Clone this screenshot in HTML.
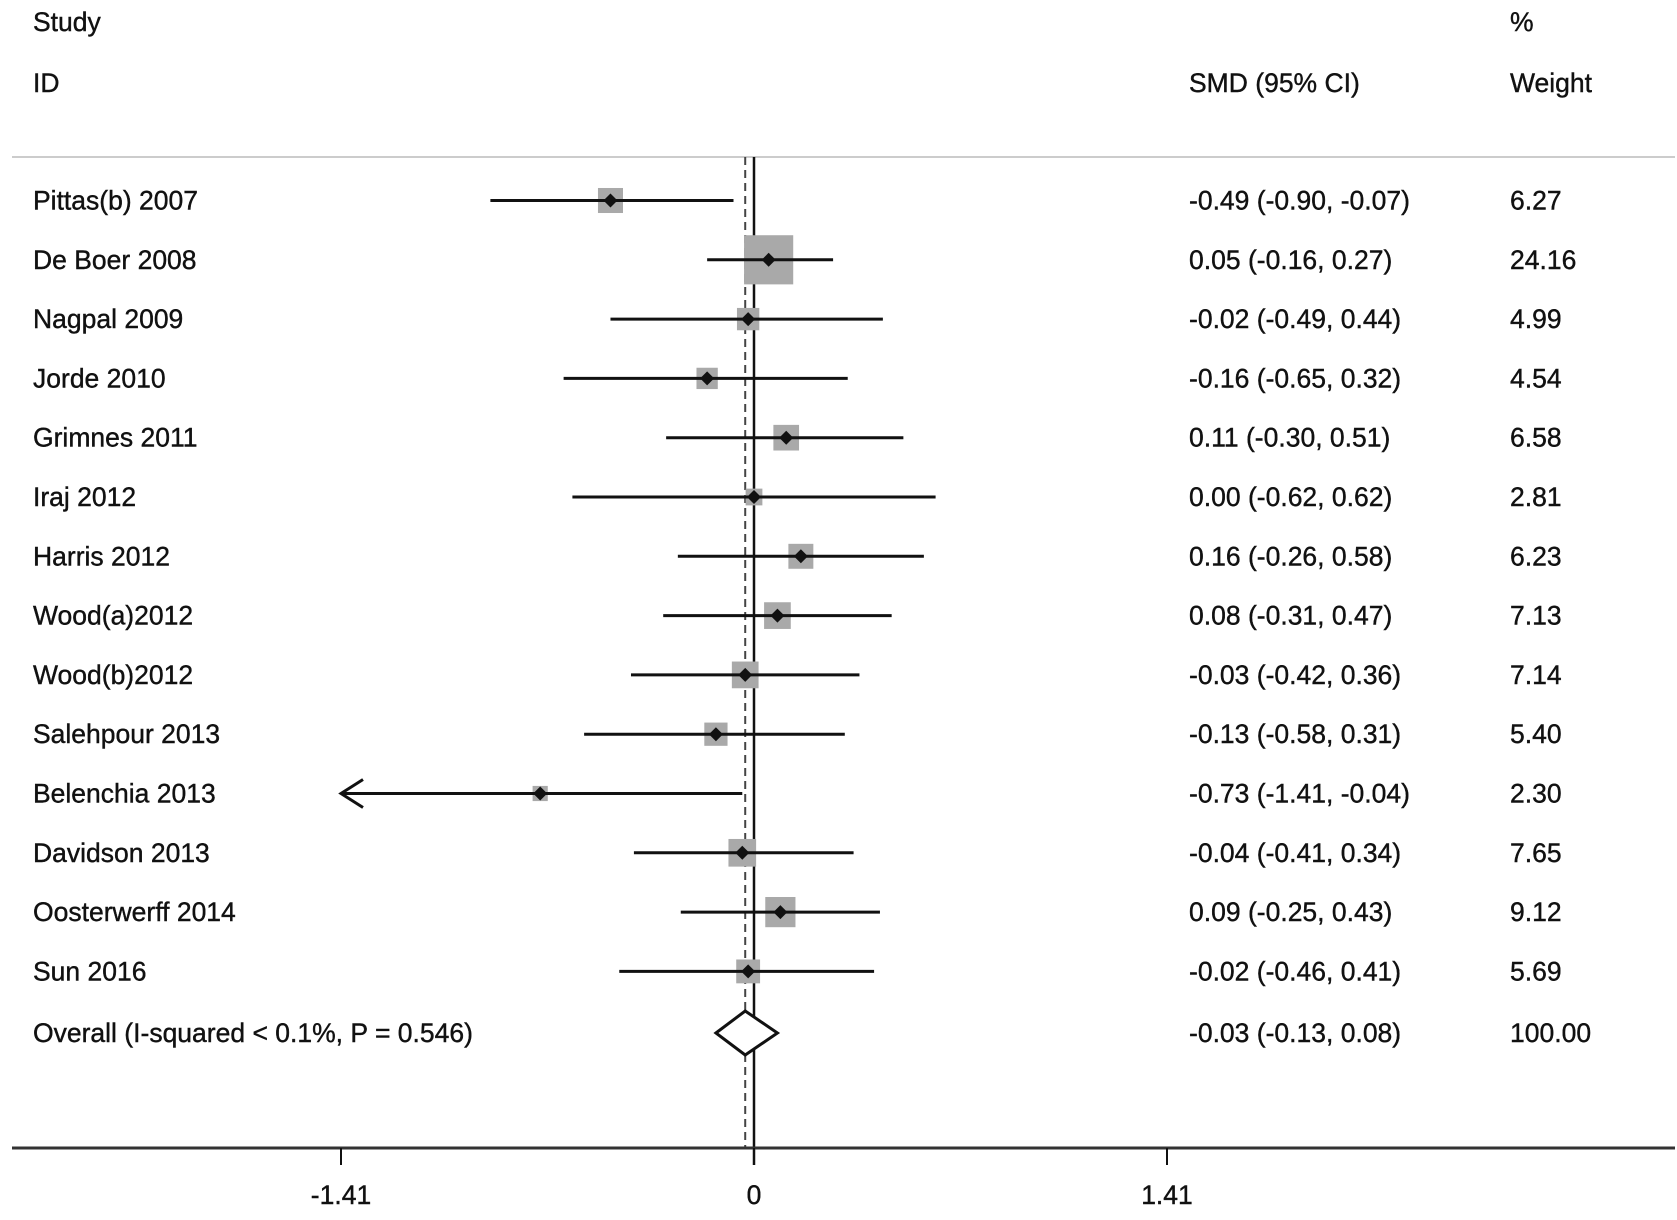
<!DOCTYPE html>
<html><head><meta charset="utf-8">
<style>
body{margin:0;background:#fff;}
svg text{font-family:"Liberation Sans",Arial,sans-serif;font-size:26.5px;fill:#111;stroke:#111;stroke-width:0.4;}
</style></head>
<body>
<svg id="chart" width="1677" height="1215" xmlns="http://www.w3.org/2000/svg">
<text x="33" y="31">Study</text>
<text x="33" y="92">ID</text>
<text x="1189" y="92">SMD (95% CI)</text>
<text x="1510" y="31">%</text>
<text x="1510" y="92">Weight</text>
<line x1="12" y1="157" x2="1675" y2="157" stroke="#ccc" stroke-width="2"/>
<g id="plot"></g>
</svg>
<script>
const studies=["Pittas(b) 2007","De Boer 2008","Nagpal 2009","Jorde 2010","Grimnes 2011","Iraj 2012","Harris 2012","Wood(a)2012","Wood(b)2012","Salehpour 2013","Belenchia 2013","Davidson 2013","Oosterwerff 2014","Sun 2016"];
const smd=[-0.49,0.05,-0.02,-0.16,0.11,0.00,0.16,0.08,-0.03,-0.13,-0.73,-0.04,0.09,-0.02];
const lower=[-0.90,-0.16,-0.49,-0.65,-0.30,-0.62,-0.26,-0.31,-0.42,-0.58,-1.41,-0.41,-0.25,-0.46];
const upper=[-0.07,0.27,0.44,0.32,0.51,0.62,0.58,0.47,0.36,0.31,-0.04,0.34,0.43,0.41];
const weights=[6.27,24.16,4.99,4.54,6.58,2.81,6.23,7.13,7.14,5.40,2.30,7.65,9.12,5.69];
const overall=[-0.03,-0.13,0.08];
const overallLabel="Overall  (I-squared < 0.1%, P = 0.546)";
const ticks=[-1.41,0,1.41];
const tickLabels=["-1.41","0","1.41"];
const xMin=-1.41;

const NS="http://www.w3.org/2000/svg";
const g=document.getElementById('plot');
const X=v=>754+v*292.9;
const Y=i=>200.5+i*59.3;
const axisY=1148, overallY=1033;
function mk(t,a,p){const e=document.createElementNS(NS,t);for(const k in a)e.setAttribute(k,a[k]);(p||g).appendChild(e);return e;}
const f=v=>(v<0?"-":"")+Math.abs(v).toFixed(2);

let l=mk('line',{x1:X(0),y1:157,x2:X(0),y2:axisY+17,stroke:'#111','stroke-width':2.5});


l=mk('line',{x1:X(overall[0]),y1:157,x2:X(overall[0]),y2:axisY,stroke:'#444','stroke-width':2,'stroke-dasharray':'8,5'});



studies.forEach((s,i)=>{
  const y=Y(i);
  const row=mk('g',{});
  
  
  let t=mk('text',{x:33,y:y+9},row);t.textContent=s;
  
  
  const side=10*Math.sqrt(weights[i]);
  let r=mk('rect',{x:X(smd[i])-side/2,y:y-side/2,width:side,height:side,fill:'#a9a9a9'},row);
  
  
  const lo=Math.max(lower[i],xMin);
  let ci=mk('line',{x1:X(lo),y1:y,x2:X(upper[i]),y2:y,stroke:'#111','stroke-width':3},row);
  
  
  if(lower[i]<=xMin){
    let a=mk('polyline',{points:`${X(lo)+22},${y-14} ${X(lo)},${y} ${X(lo)+22},${y+14}`,fill:'none',stroke:'#111','stroke-width':3},row);
    
    
  }
  let d=mk('path',{d:`M${X(smd[i])-7},${y} L${X(smd[i])},${y-7} L${X(smd[i])+7},${y} L${X(smd[i])},${y+7}Z`,fill:'#111'},row);
  
  
  t=mk('text',{x:1189,y:y+9},row);t.textContent=`${f(smd[i])} (${f(lower[i])}, ${f(upper[i])})`;
  
  
  t=mk('text',{x:1510,y:y+9},row);t.textContent=weights[i].toFixed(2);
  
  
});

let t=mk('text',{x:33,y:overallY+9});t.textContent=overallLabel;


let dm=mk('path',{d:`M${X(overall[1])},${overallY} L${X(overall[0])},${overallY-22} L${X(overall[2])},${overallY} L${X(overall[0])},${overallY+22}Z`,fill:'#fff',stroke:'#111','stroke-width':3});


t=mk('text',{x:1189,y:overallY+9});t.textContent=`${f(overall[0])} (${f(overall[1])}, ${f(overall[2])})`;


t=mk('text',{x:1510,y:overallY+9});t.textContent="100.00";



let ax=mk('line',{x1:12,y1:axisY,x2:1675,y2:axisY,stroke:'#333','stroke-width':3});


ticks.forEach((v,i)=>{
  let tk=mk('line',{x1:X(v),y1:axisY,x2:X(v),y2:axisY+17,stroke:'#111','stroke-width':2});
  
  
  let tl=mk('text',{x:X(v),y:axisY+56,'text-anchor':'middle'});tl.textContent=tickLabels[i];
  
  
});
</script>
</body></html>
